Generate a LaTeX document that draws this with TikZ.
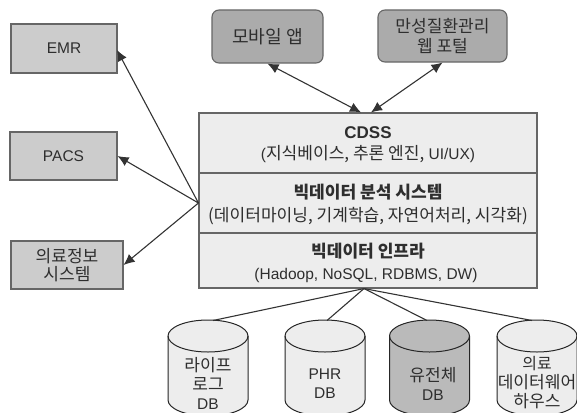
\documentclass[tikz,border=0pt]{standalone}
\usepackage{fontspec}
\setmainfont{Liberation Sans}
\newfontfamily\ko[Scale=1.1]{Noto Sans CJK KR}
\usetikzlibrary{arrows.meta}
\definecolor{ink}{HTML}{2E2E2E}
\definecolor{edgeg}{HTML}{666666}
\tikzset{
 txt/.style={font=\fontsize{15.5}{19}\selectfont,text=ink,align=center,inner sep=0pt},
 sidebox/.style={draw=edgeg,line width=1.1pt,fill=black!20,txt},
 topbox/.style={draw=edgeg,line width=1.1pt,fill=black!33,rounded corners=7pt,txt},
 layer/.style={draw=edgeg,line width=1.1pt,fill=black!7},
 cylpath/.style={draw=black!85,line width=1pt},
 link/.style={draw=black!80,line width=1.1pt},
 arr/.style={link,-{Latex[length=11pt,width=10pt]}},
 arrb/.style={link,{Latex[length=11pt,width=10pt]}-{Latex[length=11pt,width=10pt]}},
}
% centre x, fill, name
\newcommand{\dbshape}[3]{%
 \path[cylpath,fill=#2] (#1-40,336) -- (#1-40,400) arc[start angle=180,end angle=0,x radius=40,y radius=16]
   -- (#1+40,336) arc[start angle=0,end angle=-180,x radius=40,y radius=16] -- cycle;
 \path[cylpath] (#1-40,336) arc[start angle=180,end angle=0,x radius=40,y radius=16];
 \coordinate (#3) at (#1,320.5);
}
\begin{document}
\begin{tikzpicture}[x=1pt,y=-1pt]
\useasboundingbox (0,0) rectangle (577,412);
% side boxes
\node[sidebox,minimum width=106pt,minimum height=49pt] (emr) at (64,48.5) {EMR};
\node[sidebox,minimum width=107pt,minimum height=48pt] (pacs) at (63.5,156) {PACS};
\node[sidebox,minimum width=112pt,minimum height=48pt] (his) at (67,265) {{\ko 의료정보}\\[-1pt]{\ko 시스템}};
% top boxes
\node[topbox,minimum width=111pt,minimum height=53pt] (app) at (267.5,36.5) {\fontsize{16.5}{19}\selectfont\ko 모바일 앱};
\node[topbox,minimum width=129pt,minimum height=52pt] (portal) at (442.5,36) {{\ko 만성질환관리}\\[1pt]{\ko 웹 포털}};
% layers
\node[layer,minimum width=338pt,minimum height=60pt] (cdss) at (368,143) {};
\node[layer,minimum width=338pt,minimum height=60pt] (bda) at (368,203) {};
\node[layer,minimum width=338pt,minimum height=55pt] (infra) at (368,260.5) {};
\node[txt] (t1) at (368,133) {\fontsize{17}{19}\selectfont\textbf{CDSS}};
\node[txt] (t1b) at (368,154) {({\ko 지식베이스, 추론 엔진,} UI/UX)};
\node[txt] (t2) at (368,192.5) {\ko\bfseries 빅데이터 분석 시스템};
\node[txt] (t2b) at (368,216) {\ko (데이터마이닝, 기계학습, 자연어처리, 시각화)};
\node[txt] (t3) at (368,251) {\ko\bfseries 빅데이터 인프라};
\node[txt] (t3b) at (366,275) {(Hadoop, NoSQL, RDBMS, DW)};
% anchors on the system box
\coordinate (hubL) at (bda.west);
\coordinate (topA) at ([xshift=-7pt]cdss.north);
\coordinate (topB) at ([xshift=3pt]cdss.north);
\coordinate (hubB) at ([xshift=-4pt]infra.south);
% cylinders
\dbshape{208}{black!7}{db1}
\dbshape{325}{black!7}{db2}
\dbshape{429.5}{black!27}{db3}
\dbshape{537}{black!7}{db4}
\coordinate (db1) at (213,320.5);
\coordinate (db2) at (327,320.5);
\coordinate (db3) at (427,320.5);
\coordinate (db4) at (532,320.5);
\node[txt] (d1) at (208,383.5) {{\ko 라이프}\\{\ko 로그}\\DB};
\node[txt] (d2) at (325,383.5) {PHR\\DB};
\node[txt] (d3) at (433,384) {{\ko 유전체}\\DB};
\node[txt] (d4) at (537,383) {\fontsize{14.5}{19}\selectfont{\ko 의료}\\{\ko 데이터웨어}\\{\ko 하우스}};
% connectors
\draw[arr] (hubL) -- (117,50);
\draw[arr] (hubL) -- (pacs.east);
\draw[arr] (hubL) -- (his.east);
\draw[arrb] (app.south) -- (topA);
\draw[arrb] (portal.south) -- (topB);
\draw[link] (hubB) -- (db1);
\draw[link] (hubB) -- (db2);
\draw[link] (hubB) -- (db3);
\draw[link] (hubB) -- (db4);
\end{tikzpicture}
\end{document}
